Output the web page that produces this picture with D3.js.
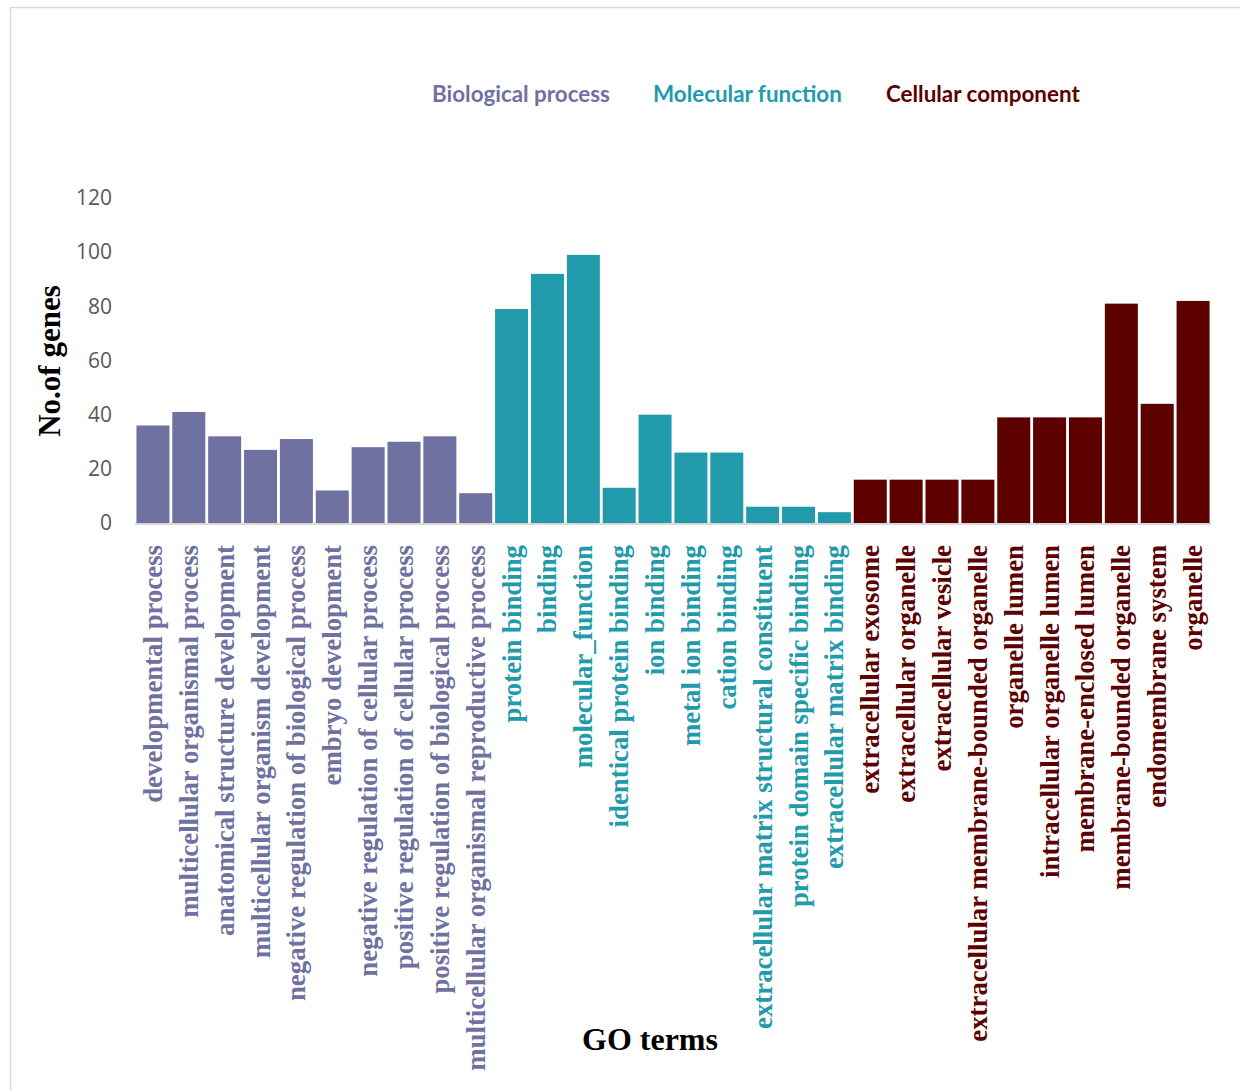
<!DOCTYPE html>
<html>
<head>
<meta charset="utf-8">
<script src="https://cdn.jsdelivr.net/npm/d3@7"></script>
<style>
  body { margin: 0; background: #fff; }
  svg { display: block; }
</style>
</head>
<body>
<svg id="chart" width="1240" height="1090"></svg>
<script>
const categories = [
  "developmental process",
  "multicellular organismal process",
  "anatomical structure development",
  "multicellular organism development",
  "negative regulation of biological process",
  "embryo development",
  "negative regulation of cellular process",
  "positive regulation of cellular process",
  "positive regulation of biological process",
  "multicellular organismal reproductive process",
  "protein binding",
  "binding",
  "molecular_function",
  "identical protein binding",
  "ion binding",
  "metal ion binding",
  "cation binding",
  "extracellular matrix structural constituent",
  "protein domain specific binding",
  "extracellular matrix binding",
  "extracellular exosome",
  "extracellular organelle",
  "extracellular vesicle",
  "extracellular membrane-bounded organelle",
  "organelle lumen",
  "intracellular organelle lumen",
  "membrane-enclosed lumen",
  "membrane-bounded organelle",
  "endomembrane system",
  "organelle"
];
const values = [36, 41, 32, 27, 31, 12, 28, 30, 32, 11,
                79, 92, 99, 13, 40, 26, 26, 6, 6, 4,
                16, 16, 16, 16, 39, 39, 39, 81, 44, 82];
const groupOf = [0,0,0,0,0,0,0,0,0,0,
                 1,1,1,1,1,1,1,1,1,1,
                 2,2,2,2,2,2,2,2,2,2];
const groupNames = ["Biological process", "Molecular function", "Cellular component"];
const groupColors = ["#6F71A0", "#219BAC", "#5C0000"];
const yTicks = [0, 20, 40, 60, 80, 100, 120];

const svg = d3.select("#chart");

// outer frame
svg.append("rect")
  .attr("x", 10.5).attr("y", 7.5)
  .attr("width", 1300).attr("height", 1200)
  .attr("fill", "none").attr("stroke", "#d9d9d9").attr("stroke-width", 1.5);

const x = d3.scaleBand().domain(categories).range([135, 1211])
  .paddingInner(0.08).paddingOuter(0.04);
const y = d3.scaleLinear().domain([0, 120]).range([523, 198]);

const color = d => groupColors[groupOf[categories.indexOf(d)]];

// bars
svg.append("g").selectAll("rect")
  .data(categories)
  .join("rect")
  .attr("x", d => x(d))
  .attr("width", x.bandwidth())
  .attr("y", (d, i) => y(values[i]))
  .attr("height", (d, i) => y(0) - y(values[i]))
  .attr("fill", color);

// x axis baseline
svg.append("line")
  .attr("x1", 135).attr("x2", 1211)
  .attr("y1", 524).attr("y2", 524)
  .attr("stroke", "#d9d9d9").attr("stroke-width", 2);

// y axis
const yAxis = d3.axisLeft(y).tickValues(yTicks).tickSize(0).tickPadding(0);
const yg = svg.append("g").attr("transform", "translate(112,0)").call(yAxis);
yg.select(".domain").remove();
yg.selectAll("text")
  .attr("font-family", "'Open Sans', sans-serif")
  .attr("font-size", 21)
  .attr("fill", "#595959");

// x labels
const xAxis = d3.axisBottom(x).tickSize(0).tickPadding(0);
const xg = svg.append("g").attr("transform", "translate(0,545)").call(xAxis);
xg.select(".domain").remove();
xg.selectAll("text")
  .attr("font-family", "'Liberation Serif', 'Times New Roman', serif")
  .attr("font-weight", "bold")
  .attr("font-size", 26.8)
  .attr("fill", color)
  .attr("text-anchor", "end")
  .attr("dy", null)
  .attr("y", 0)
  .attr("transform", "rotate(-90)")
  .attr("x", 0)
  .attr("dominant-baseline", "central");

// axis titles
svg.append("text")
  .attr("transform", "translate(60,361) rotate(-90)")
  .attr("text-anchor", "middle")
  .attr("font-family", "'Liberation Serif', 'Times New Roman', serif")
  .attr("font-weight", "bold")
  .attr("font-size", 31)
  .attr("fill", "#000")
  .text("No.of genes");

svg.append("text")
  .attr("x", 650).attr("y", 1050)
  .attr("text-anchor", "middle")
  .attr("font-family", "'Liberation Serif', 'Times New Roman', serif")
  .attr("font-weight", "bold")
  .attr("font-size", 32)
  .attr("fill", "#000")
  .text("GO terms");

// legend (text only)
const legendX = [432, 653, 886];
svg.append("g").selectAll("text")
  .data(groupNames)
  .join("text")
  .attr("x", (d, i) => legendX[i])
  .attr("y", 102)
  .attr("font-family", "Lato, 'Open Sans', sans-serif")
  .attr("font-weight", "bold")
  .attr("font-size", 22.4)
  .attr("fill", (d, i) => groupColors[i])
  .text(d => d);
</script>
</body>
</html>
